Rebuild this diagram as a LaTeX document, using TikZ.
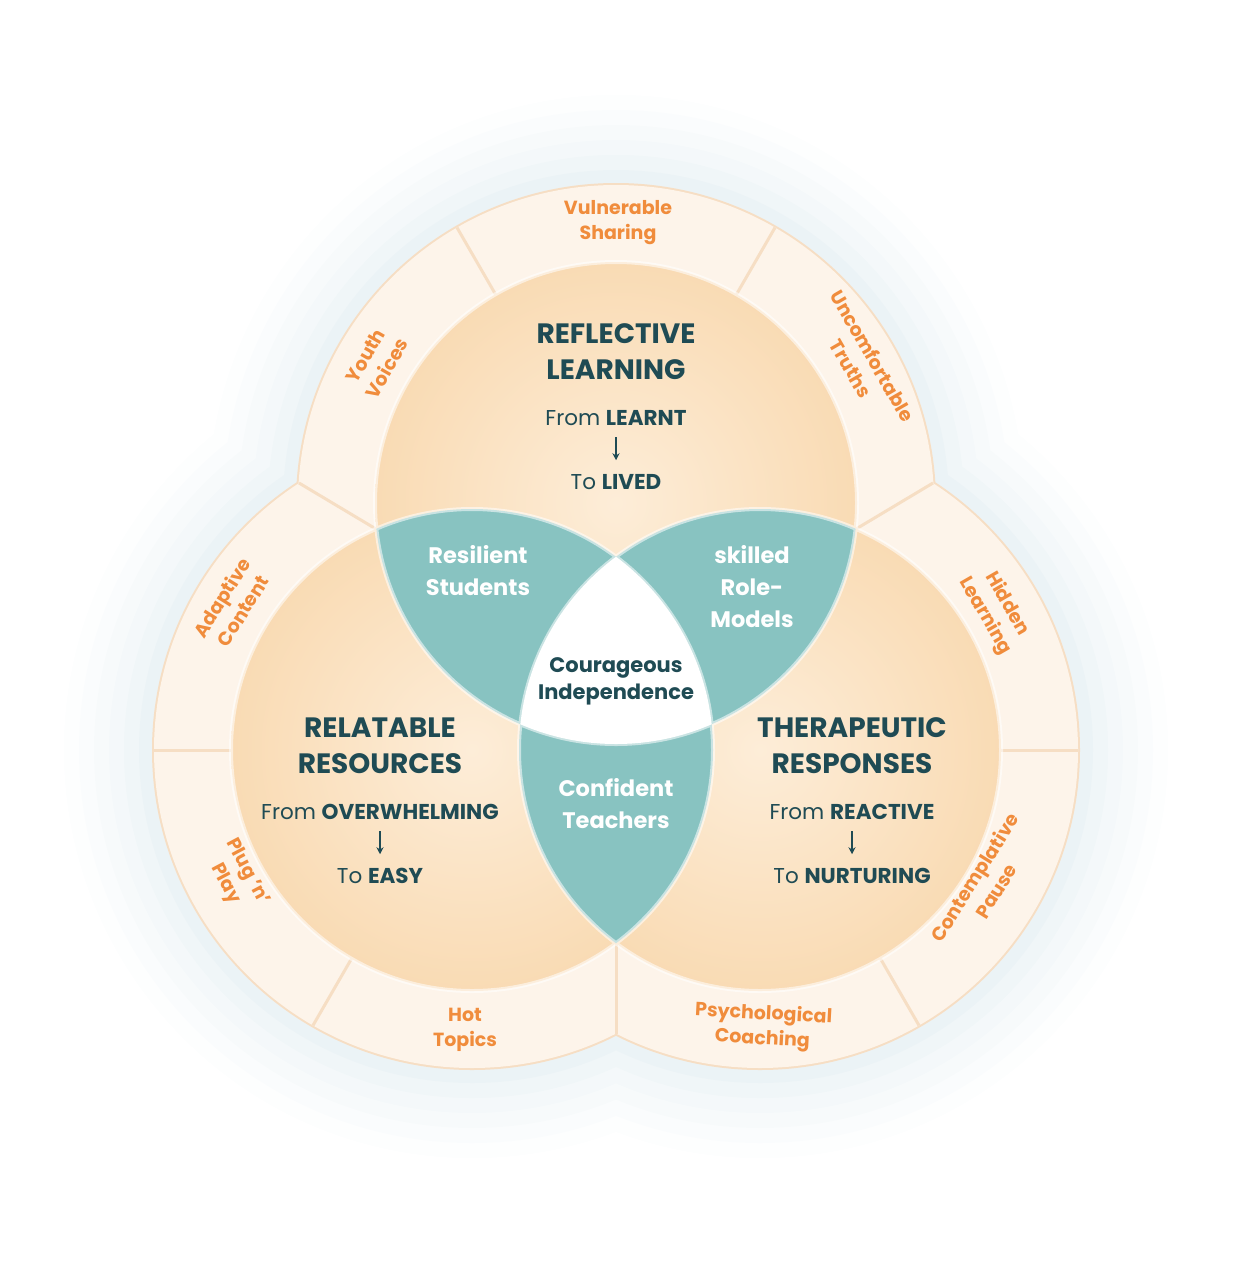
\documentclass[tikz,border=0pt]{standalone}
\usepackage{fontspec}
\setmainfont{Poppins}
\usetikzlibrary{arrows.meta,calc}
\definecolor{dark}{HTML}{1F4B54}
\definecolor{orng}{HTML}{F08C3C}
\definecolor{tealc}{HTML}{88C3C1}
\definecolor{cream}{HTML}{FDF4EA}
\definecolor{ringline}{HTML}{F6DEC4}
\definecolor{peachin}{HTML}{FDEDD8}
\definecolor{peachout}{HTML}{F9DBB4}
\definecolor{glow}{HTML}{C6DCE4}
\begin{document}
\begin{tikzpicture}[x=1pt,y=-1pt,
  title/.style={text=dark,align=center,font=\fontsize{28}{36}\selectfont\bfseries},
  sub/.style={text=dark,align=center,font=\fontsize{21.5}{24}\selectfont},
  lens/.style={text=white,align=center,font=\fontsize{22.5}{32}\selectfont\bfseries},
  ring/.style={text=orng,align=center,font=\fontsize{19}{25}\selectfont\bfseries},
  sep/.style={draw=ringline,line width=3pt},
  arr/.style={draw=dark,line width=1.2pt,-{Stealth[length=7pt,width=7pt]}}]
\useasboundingbox (0,0) rectangle (1232,1280);
\coordinate (T) at (616,503);
\coordinate (L) at (472,750);
\coordinate (R) at (760,750);
% glow
\foreach \k/\o in {90/0.04,75/0.05,60/0.06,45/0.07,30/0.09,15/0.11}{
\begin{scope}[transparency group,opacity=\o]
\fill[glow] (T) circle ({318+\k}) (L) circle ({318+\k}) (R) circle ({318+\k});
\end{scope}}
% ring
\draw[ringline,line width=4pt] (T) circle (318) (L) circle (318) (R) circle (318);
\fill[cream] (T) circle (318) (L) circle (318) (R) circle (318);
\coordinate (s1a) at (736.5,294.3); \coordinate (s1b) at (775,227.6);
\coordinate (s2a) at (495.5,294.3); \coordinate (s2b) at (457,227.6);
\coordinate (s3a) at (231,750); \coordinate (s3b) at (154,750);
\coordinate (s4a) at (351.5,958.7); \coordinate (s4b) at (313,1025.4);
\coordinate (s5a) at (1001,750); \coordinate (s5b) at (1078,750);
\coordinate (s6a) at (880.5,958.7); \coordinate (s6b) at (919,1025.4);
\coordinate (c1a) at (376,529); \coordinate (c1b) at (299,483);
\coordinate (c2a) at (856,529); \coordinate (c2b) at (933,483);
\coordinate (c3a) at (616,943); \coordinate (c3b) at (616,1034);
\foreach \s in {s1,s2,s3,s4,s5,s6,c1,c2,c3}{\draw[sep] (\s a) -- (\s b);}
% inner circles
\foreach \c in {T,L,R}{\shade[inner color=peachin,outer color=peachout] (\c) circle (241);}
\begin{scope}\clip (T) circle (241); \fill[tealc] (L) circle (241); \fill[tealc] (R) circle (241);\end{scope}
\begin{scope}\clip (L) circle (241); \fill[tealc] (R) circle (241);\end{scope}
\begin{scope}\clip (T) circle (241); \clip (L) circle (241); \fill[white] (R) circle (241);\end{scope}
\draw[white,opacity=0.55,line width=4pt] (T) circle (241) (L) circle (241) (R) circle (241);
% texts
\node[title] (t1) at (616,352) {REFLECTIVE\\LEARNING};
\node[sub] (f1) at (616,418) {From \textbf{LEARNT}};
\node[sub] (o1) at (616,482) {To \textbf{LIVED}};
\node[title] (t2) at (380,746) {RELATABLE\\RESOURCES};
\node[sub] (f2) at (380,812) {From \textbf{OVERWHELMING}};
\node[sub] (o2) at (380,876) {To \textbf{EASY}};
\node[title] (t3) at (852,746) {THERAPEUTIC\\RESPONSES};
\node[sub] (f3) at (852,812) {From \textbf{REACTIVE}};
\node[sub] (o3) at (852,876) {To \textbf{NURTURING}};
\foreach \i in {1,2,3}{\draw[arr] ($(f\i.center)!0.3!(o\i.center)$) -- ($(f\i.center)!0.66!(o\i.center)$);}
\node[lens] (l1) at (478,571) {Resilient\\Students};
\node[lens] (l2) at (752,587) {skilled\\Role-\\Models};
\node[lens] (l3) at (616,804) {Confident\\Teachers};
\node[text=dark,align=center,font=\fontsize{21}{27}\selectfont\bfseries] (ci) at (616,681) {Courageous\\Independence};
\node[ring] (r1) at (618,223) {Vulnerable\\Sharing};
\node[ring,rotate=60] (r2) at (376,362) {Youth\\Voices};
\node[ring,rotate=-60] (r3) at (862,362) {Uncomfortable\\Truths};
\node[ring,rotate=58] (r4) at (232,604) {Adaptive\\Content};
\node[ring,rotate=-62] (r5) at (236,878) {Plug ’n’\\Play};
\node[ring] (r6) at (465,1030) {Hot\\Topics};
\node[ring,rotate=-3] (r7) at (763,1027) {Psychological\\Coaching};
\node[ring,rotate=58] (r8) at (985,884) {Contemplative\\Pause};
\node[ring,rotate=-60] (r9) at (996,610) {Hidden\\Learning};
\end{tikzpicture}
\end{document}
